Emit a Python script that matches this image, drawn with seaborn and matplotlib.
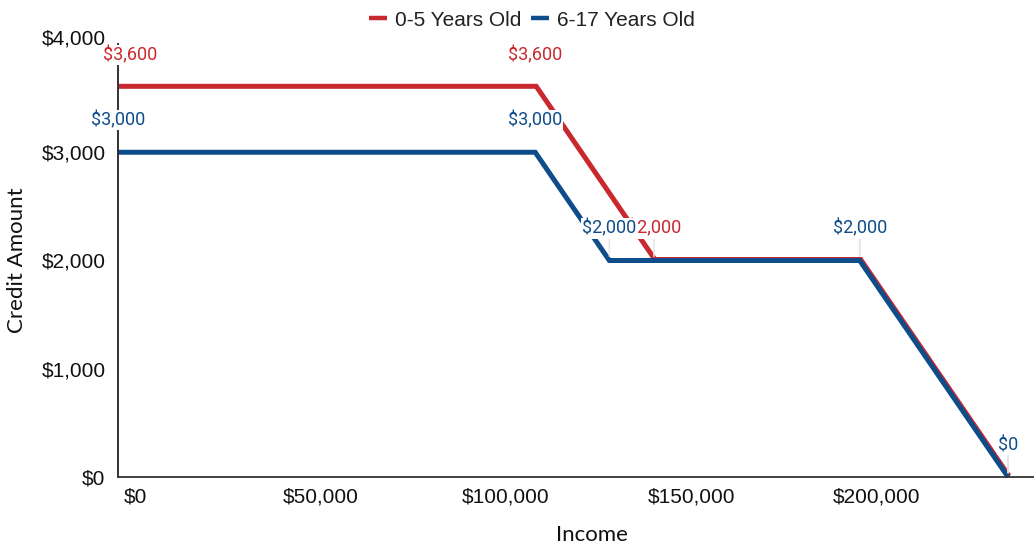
import matplotlib
matplotlib.use("Agg")
import matplotlib.pyplot as plt
import matplotlib.transforms as mtransforms
from matplotlib.ticker import FuncFormatter, FixedLocator
from matplotlib.lines import Line2D
import seaborn as sns
import pandas as pd

# ---- data ----
series_names = ["0-5 Years Old", "6-17 Years Old"]
income_young = [0, 112500, 144500, 200000, 240000]
credit_young = [3600, 3600, 2000, 2000, 0]
income_old = [0, 112500, 132500, 200000, 240000]
credit_old = [3000, 3000, 2000, 2000, 0]
x_ticks = [0, 50000, 100000, 150000, 200000]
y_ticks = [0, 1000, 2000, 3000, 4000]
x_title = "Income"
y_title = "Credit Amount"

RED = "#c8282e"
BLUE = "#0f4d8a"

df = pd.concat([
    pd.DataFrame({"Income": income_young, "Credit": credit_young, "Group": series_names[0]}),
    pd.DataFrame({"Income": income_old, "Credit": credit_old, "Group": series_names[1]}),
], ignore_index=True)

sns.set_theme(style="white")
plt.rcParams["font.family"] = ["Liberation Sans", "DejaVu Sans"]

fig = plt.figure(figsize=(10.34, 5.48), dpi=100)
ax = fig.add_axes([118 / 1034, 1 - 477 / 548, 916 / 1034, 433 / 548])

sns.lineplot(data=df, x="Income", y="Credit", hue="Group",
             palette={series_names[0]: RED, series_names[1]: BLUE},
             linewidth=3.6, ax=ax, legend=False, sort=False,
             estimator=None)
for ln in ax.get_lines():
    ln.set_clip_on(False)
    ln.set_solid_joinstyle("miter")
    ln.set_solid_capstyle("butt")
# nudge red line slightly so it peeks out from under the blue one
red_line = ax.get_lines()[0]
red_line.set_transform(ax.transData + mtransforms.ScaledTranslation(1 / 100, 1 / 100, fig.dpi_scale_trans))

ax.set_xlim(0, 247000)
ax.set_ylim(0, 4000)
ax.xaxis.set_major_locator(FixedLocator(x_ticks))
ax.yaxis.set_major_locator(FixedLocator(y_ticks))
fmt = FuncFormatter(lambda v, p: "${:,.0f}".format(v))
ax.xaxis.set_major_formatter(fmt)
ax.yaxis.set_major_formatter(fmt)
ax.tick_params(axis="both", length=0, labelsize=15, colors="#111111")
ax.tick_params(axis="x", pad=7.5)
ax.tick_params(axis="y", pad=9)

for s in ["top", "right"]:
    ax.spines[s].set_visible(False)
ax.spines["left"].set_color("#222222")
ax.spines["bottom"].set_color("#333333")
ax.spines["left"].set_linewidth(1.3)
ax.spines["bottom"].set_linewidth(1.3)

ax.set_xlabel(x_title, fontsize=16, family=["Lato", "DejaVu Sans"], color="#111111")
ax.set_ylabel(y_title, fontsize=16, family=["Lato", "DejaVu Sans"], color="#111111")
ax.xaxis.set_label_coords((592 - 118) / 916, -(525 - 477) / 433)
ax.yaxis.set_label_coords((27 - 118) / 916, 0.5)

# data labels
def add_labels(xs, ys, color, z, dx_first=0):
    for i, (x, y) in enumerate(zip(xs, ys)):
        dx = dx_first if i == 0 else 0
        arrow = None
        if i >= 2:
            arrow = dict(arrowstyle="-", color="#e4e4e4", lw=1.1, shrinkA=0, shrinkB=3)
        ax.annotate("${:,.0f}".format(y), xy=(x, y), xytext=(dx, 32),
                    textcoords="offset pixels", ha="center", va="center",
                    fontsize=13, color=color, family=["Roboto", "DejaVu Sans"],
                    bbox=dict(boxstyle="square,pad=0.06", fc="white", ec="none"),
                    arrowprops=arrow, zorder=z, annotation_clip=False)

add_labels(income_young, credit_young, RED, 5, dx_first=12)
add_labels(income_old, credit_old, BLUE, 6)

# legend
handles = [Line2D([], [], color=RED, lw=3.2, solid_capstyle="butt"),
           Line2D([], [], color=BLUE, lw=3.2, solid_capstyle="butt")]
fig.legend(handles, series_names, loc="center", bbox_to_anchor=(532 / 1034, 1 - 20 / 548),
           ncol=2, frameon=False, fontsize=15, handlelength=0.85, handletextpad=0.4,
           columnspacing=0.45, labelcolor="#222222")

fig.canvas.draw()
off = mtransforms.ScaledTranslation(17 / 100, 0, fig.dpi_scale_trans)
for lab in ax.get_xticklabels():
    lab.set_transform(lab.get_transform() + off)
ylabs = ax.get_yticklabels()
ylabs[-1].set_transform(ylabs[-1].get_transform() + mtransforms.ScaledTranslation(0, 7 / 100, fig.dpi_scale_trans))

fig.savefig("out.png", dpi=100)
